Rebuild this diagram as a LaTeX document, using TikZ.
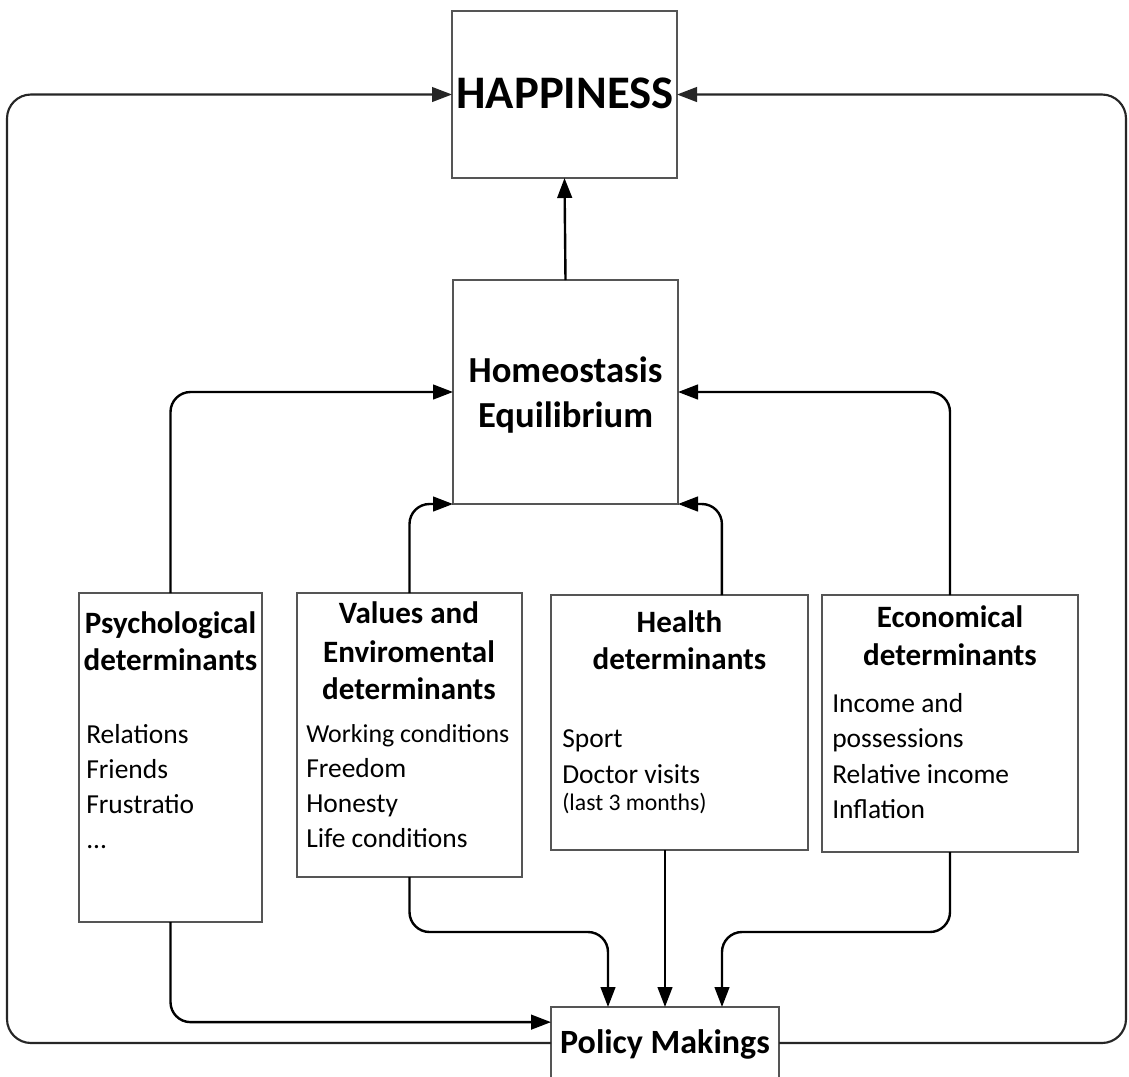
\documentclass[tikz,border=0pt]{standalone}
\usepackage{fontspec}
\setmainfont{Carlito}
\usetikzlibrary{arrows.meta,fit,calc}
\definecolor{boxgray}{HTML}{555555}
\newcommand\lblhead{\fontsize{23.3pt}{27.75pt}\selectfont\bfseries}
\newcommand\lblitem{\fontsize{20.6pt}{26pt}\selectfont}
\newcommand\lblsmall{\fontsize{19.4pt}{24pt}\selectfont}
\newcommand\lbltiny{\fontsize{17.8pt}{22pt}\selectfont}
\begin{document}
\begin{tikzpicture}[x=0.75pt,y=-0.75pt,
  box/.style={draw=boxgray, line width=1.5pt, inner sep=0pt, outer sep=0pt},
  conn/.style={draw=black, line width=1.8pt, rounded corners=15pt,
    -{Triangle[length=15pt,width=11pt]}},
  loopline/.style={draw=black!85, line width=1.6pt, rounded corners=18pt,
    -{Triangle[length=15pt,width=11pt]}},
  txt/.style={inner sep=0pt, anchor=base, text=black},
  txtl/.style={inner sep=0pt, anchor=base west, text=black}]

\fill[white] (0,0) rectangle (1129,1076);
\clip (0,0) rectangle (1129,1076);

% boxes
\node[box, fit={(452,11) (677,178)}] (hap) {};
\node[box, fit={(453,280) (678,504)}] (homeo) {};
\node[box, fit={(79,593) (262,922)}] (psych) {};
\node[box, fit={(297,593) (522,877)}] (values) {};
\node[box, fit={(551,595) (808,850)}] (health) {};
\node[box, fit={(822,595) (1078,852)}] (econ) {};
\node[box, fit={(551,1007) (779,1079)}] (policy) {};

% titles
\node[txt] (hapT) at (565,108) {\fontsize{35pt}{40pt}\selectfont\bfseries HAPPINESS};
\node[txt] (homeoT1) at (565.5,382) {\fontsize{27.5pt}{33pt}\selectfont\bfseries Homeostasis};
\node[txt] (homeoT2) at (565.5,427) {\fontsize{27.5pt}{33pt}\selectfont\bfseries Equilibrium};
\node[txt] (policyT) at (665,1053) {\fontsize{25.5pt}{30pt}\selectfont\bfseries Policy Makings};

% psychological determinants
\node[txt] (psyH1) at (170.5,633) {\lblhead Psychological};
\node[txt] (psyH2) at (170.5,670) {\lblhead determinants};
\node[txtl] (psy1) at (86,743) {\lblitem Relations};
\node[txtl] (psy2) at (86,778) {\lblitem Friends};
\node[txtl] (psy3) at (86,813) {\lblitem Frustratio};
\node[txtl] (psy4) at (86,848) {\lblitem ...};

% values and environmental determinants
\node[txt] (valH1) at (409,623) {\lblhead Values and};
\node[txt] (valH2) at (409,662) {\lblhead Enviromental};
\node[txt] (valH3) at (409,699) {\lblhead determinants};
\node[txtl] (val1) at (306,742) {\lblsmall Working conditions};
\node[txtl] (val2) at (306,777) {\lblitem Freedom};
\node[txtl] (val3) at (306,812) {\lblitem Honesty};
\node[txtl] (val4) at (306,847) {\lblitem Life conditions};

% health determinants
\node[txt] (heaH1) at (679.5,632) {\lblhead Health};
\node[txt] (heaH2) at (679.5,669) {\lblhead determinants};
\node[txtl] (hea1) at (562,747) {\lblitem Sport};
\node[txtl] (hea2) at (562,783) {\lblitem Doctor visits};
\node[txtl] (hea3) at (562,810) {\lbltiny (last 3 months)};

% economical determinants
\node[txt] (ecoH1) at (950,627) {\lblhead Economical};
\node[txt] (ecoH2) at (950,665) {\lblhead determinants};
\node[txtl] (eco1) at (832,712) {\lblitem Income and};
\node[txtl] (eco2) at (832,747) {\lblitem possessions};
\node[txtl] (eco3) at (832,783) {\lblitem Relative income};
\node[txtl] (eco4) at (832,818) {\lblitem Inflation};

% routing helpers
\coordinate (leftrail) at (7,0);
\coordinate (rightrail) at (1126,0);
\coordinate (lowrail) at (0,932);
\coordinate (healthUp) at ($(health.north west)!0.665!(health.north east)$);
\coordinate (polIn) at ($(policy.north west)!0.21!(policy.south west)$);
\coordinate (polA) at ($(policy.north west)!0.25!(policy.north east)$);
\coordinate (polC) at ($(policy.north west)!0.75!(policy.north east)$);

% outer feedback loops from policy to happiness
\draw[loopline] (policy.west) -- (policy.west -| leftrail) -- (hap.west -| leftrail) -- (hap.west);
\draw[loopline] (policy.east) -- (policy.east -| rightrail) -- (hap.east -| rightrail) -- (hap.east);

% equilibrium to happiness
\draw[conn] (homeo.north) -- (hap.south);

% determinants to equilibrium
\draw[conn] (psych.north) |- (homeo.west);
\draw[conn] (econ.north) |- (homeo.east);
\draw[conn] (values.north) |- (homeo.south west);
\draw[conn] (healthUp) |- (homeo.south east);

% determinants to policy making
\draw[conn] (psych.south) |- (polIn);
\draw[conn] (values.south) -- (values.south |- lowrail) -| (polA);
\draw[conn] (health.south -| policy.north) -- (policy.north);
\draw[conn] (econ.south) -- (econ.south |- lowrail) -| (polC);
\end{tikzpicture}
\end{document}
